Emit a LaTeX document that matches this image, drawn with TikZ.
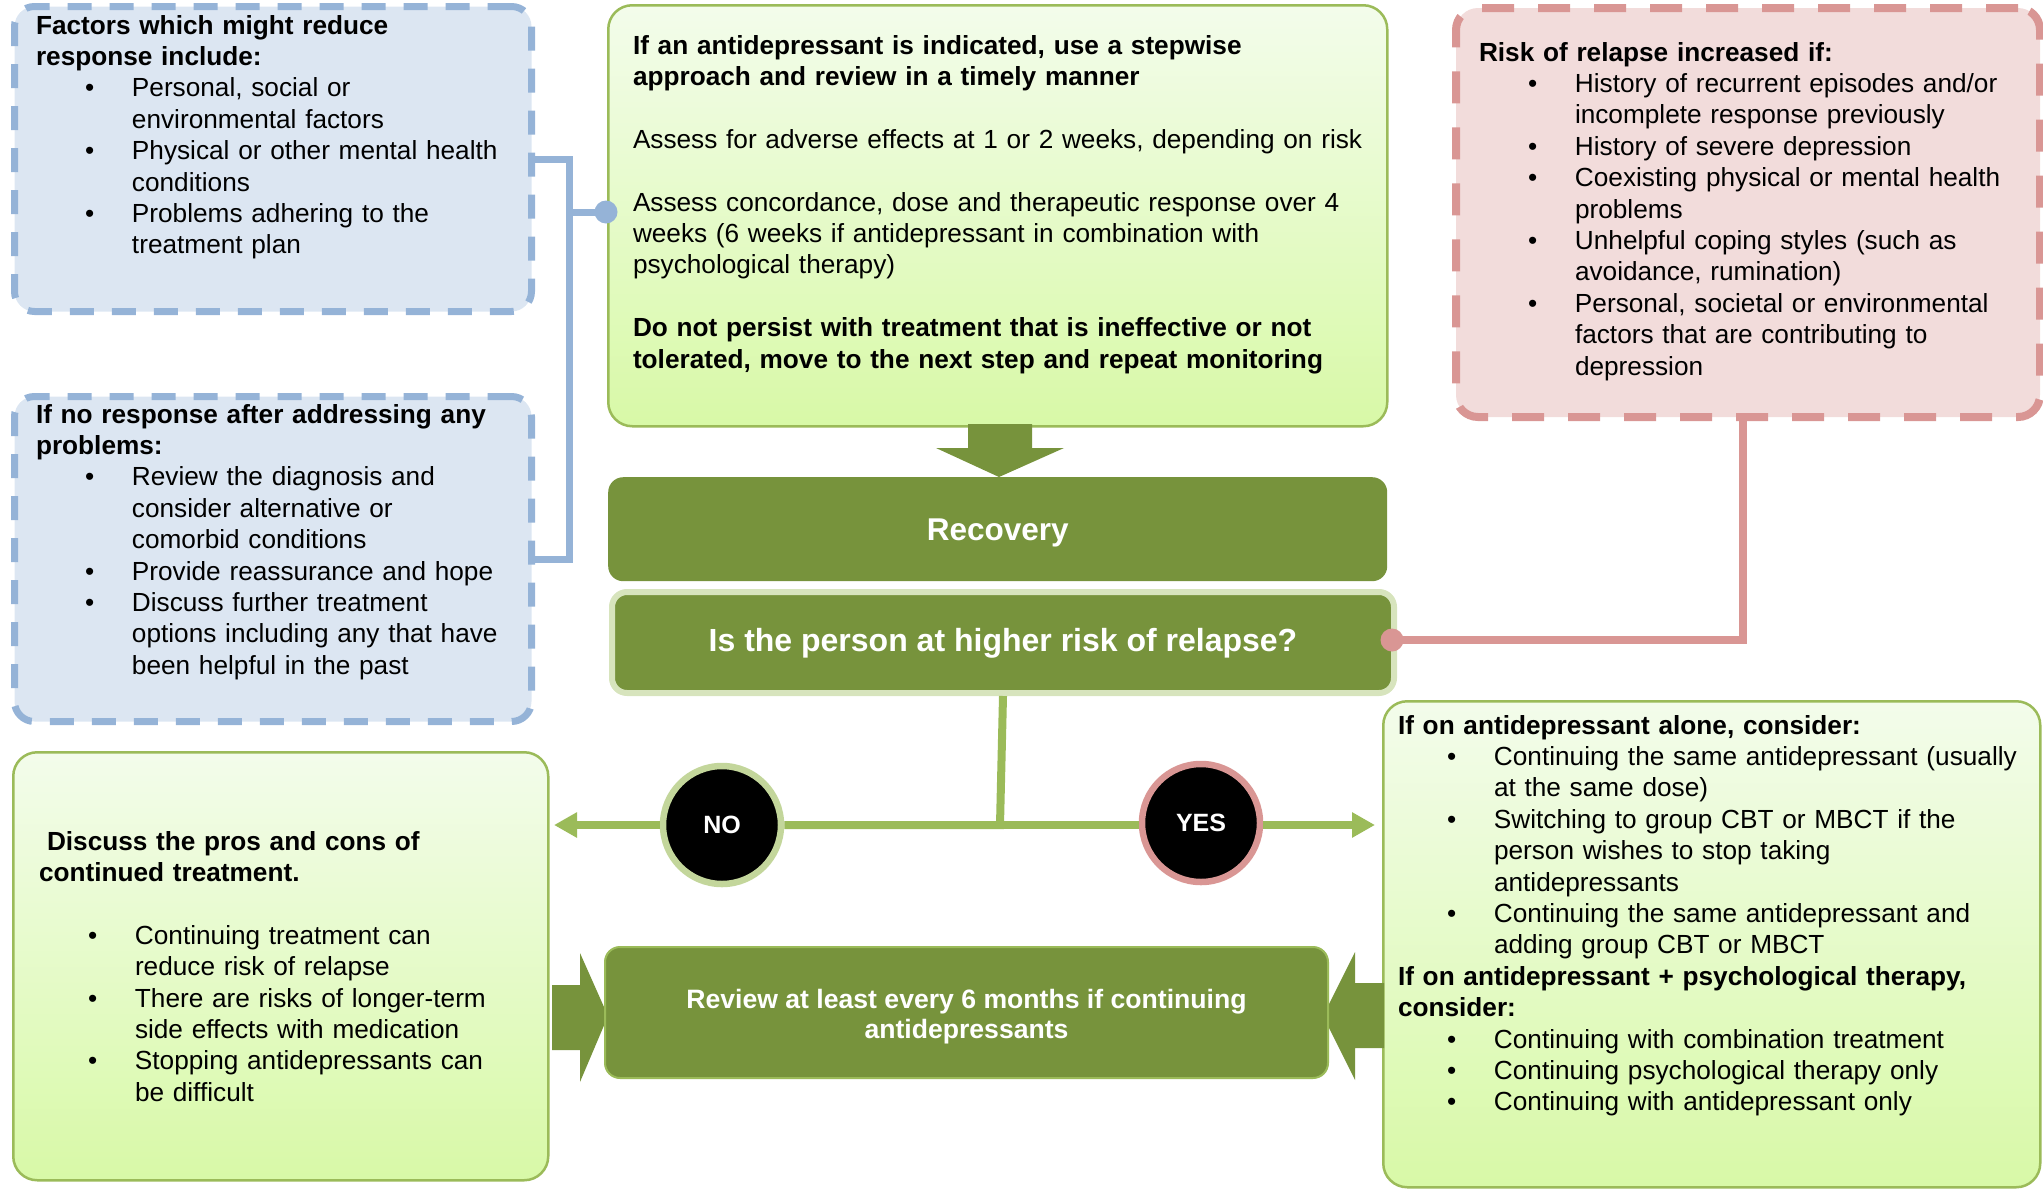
\documentclass[tikz,border=0pt]{standalone}
\usepackage{fontspec}
\setmainfont{Liberation Sans}
\usetikzlibrary{arrows.meta,shapes.geometric}

\definecolor{bluefill}{RGB}{220,230,242}
\definecolor{blueline}{RGB}{149,179,215}
\definecolor{pinkfill}{RGB}{242,220,219}
\definecolor{pinkline}{RGB}{217,150,148}
\definecolor{gline}{RGB}{155,187,89}
\definecolor{gtop}{RGB}{243,252,235}
\definecolor{gbot}{RGB}{216,249,167}
\definecolor{dgreen}{RGB}{119,147,60}
\definecolor{qborder}{RGB}{215,228,189}
\definecolor{noborder}{RGB}{195,214,155}

\newcommand{\bul}{\par\hangindent=96pt\hangafter=1\noindent\makebox[96pt][l]{\hspace{49pt}\textbullet}\ignorespaces}
\newcommand{\gap}{\par\vspace{\baselineskip}}
\newcommand{\fsbody}{\fontsize{26.2}{31.4}\selectfont}

\tikzset{
  bluebox/.style={draw=blueline, fill=bluefill, line width=7pt, dash pattern=on 24pt off 18pt, rounded corners=20pt, anchor=north west, inner sep=0pt},
  pinkbox/.style={draw=pinkline, fill=pinkfill, line width=8pt, dash pattern=on 32pt off 24pt, rounded corners=22pt, anchor=north west, inner sep=0pt},
  greenbox/.style={draw=gline, line width=2.5pt, top color=gtop, bottom color=gbot, rounded corners=24pt, anchor=north west, inner sep=0pt},
  darkbox/.style={fill=dgreen, rounded corners=15pt, anchor=north west, inner sep=0pt},
  darktext/.style={text=white, align=center, inner sep=0pt},
  txt/.style={anchor=base west, inner sep=0pt, outer sep=0pt, text width=#1, align=left, font=\fsbody},
  bconn/.style={draw=blueline, line width=7pt},
  pconn/.style={draw=pinkline, line width=8pt},
  gconn/.style={draw=gline, line width=8pt},
  gtip/.style={-{Triangle[length=23pt,width=24pt]}},
  answer/.style={circle, fill=black, line width=6.5pt, minimum size=118pt, inner sep=0pt, text=white, font=\bfseries\fontsize{25}{30}\selectfont},
}

\begin{document}
\begin{tikzpicture}[x=1pt,y=-1pt]
\useasboundingbox (0,0) rectangle (2043,1189);

% boxes
\node[bluebox, minimum width=517pt, minimum height=305pt] (f1) at (11,3) {};
\node[bluebox, minimum width=517pt, minimum height=325pt] (f2) at (11,393) {};
\node[pinkbox, minimum width=584pt, minimum height=409pt] (rk) at (1452,4) {};
\node[greenbox, minimum width=779pt, minimum height=421pt] (top) at (607,4) {};
\node[greenbox, minimum width=535pt, minimum height=428pt] (pros) at (12,751) {};
\node[greenbox, minimum width=657pt, minimum height=486pt] (cons) at (1382,700) {};

% down arrow
\fill[dgreen] (968,424) -- (1032,424) -- (1032,448) -- (1064,448) -- (999,477) -- (936,448) -- (968,448) -- cycle;

% block arrows into review box
\fill[dgreen] (552,985) -- (580,985) -- (580,953) -- (608,1016) -- (580,1082) -- (580,1050) -- (552,1050) -- cycle;
\fill[dgreen] (1384,983) -- (1355,983) -- (1355,952) -- (1323,1016) -- (1355,1080) -- (1355,1048) -- (1384,1048) -- cycle;

% dark boxes
\node[darkbox, minimum width=779pt, minimum height=104pt] (rec) at (608,477) {};
\node[darktext, font=\bfseries\fontsize{31.5}{36}\selectfont] (rect) at ([yshift=-4pt]rec.center) {Recovery};
\node[darkbox, draw=qborder, line width=6pt, minimum width=782pt, minimum height=101pt] (q) at (609,589) {};
\node[darktext, font=\bfseries\fontsize{32}{36}\selectfont] (qt) at ([yshift=-1pt]q.center) {Is the person at higher risk of relapse?};
\node[darkbox, draw=gline, line width=2pt, minimum width=723pt, minimum height=131pt] (rev) at (604,946) {};
\node[darktext, font=\bfseries\fontsize{26.6}{30}\selectfont] (revt) at ([yshift=-4pt]rev.center) {Review at least every 6 months if continuing\\antidepressants};

% blue connector
\node[circle, fill=blueline, minimum size=23pt, inner sep=0pt] (bdot) at (606,212) {};
\coordinate (bj) at (569,212);
\draw[bconn] (f1.east) -- (f1.east -| bj) -- (f2.east -| bj) -- (f2.east);
\draw[bconn] (bj) -- (bdot.center);

% pink connector
\node[circle, fill=pinkline, minimum size=23pt, inner sep=0pt] (pdot) at (1392,640) {};
\coordinate (pj) at (1743,413);
\draw[pconn] (pdot.center) -| (pj);

% yes / no
\coordinate (jn) at (1000,825);
\coordinate (tipL) at (554,825);
\coordinate (tipR) at (1375,825);
\node[answer, draw=noborder] (no) at (722,825) {NO};
\node[answer, draw=pinkline] (yes) at (1201,823) {YES};
\draw[gconn] (q.south) -- (jn) -- (no);
\draw[gconn] (jn) -- (yes.west |- jn);
\draw[gconn, gtip] (no) -- (tipL);
\draw[gconn, gtip] (yes.east |- tipR) -- (tipR);

% texts
\node[txt=480pt] (t1) at (36,34) {\textbf{Factors which might reduce\newline response include:}\bul Personal, social or\newline environmental factors\bul Physical or other mental health\newline conditions\bul Problems adhering to the\newline treatment plan\par};

\node[txt=490pt] (t2) at (36,423) {\textbf{If no response after addressing any\newline problems:}\bul Review the diagnosis and\newline consider alternative or\newline comorbid conditions\bul Provide reassurance and hope\bul Discuss further treatment\newline options including any that have\newline been helpful in the past\par};

\node[txt=760pt] (t3) at (633,54) {\textbf{If an antidepressant is indicated, use a stepwise\newline approach and review in a timely manner}\gap Assess for adverse effects at 1 or 2 weeks, depending on risk\gap Assess concordance, dose and therapeutic response over 4\newline weeks (6 weeks if antidepressant in combination with\newline psychological therapy)\gap \textbf{Do not persist with treatment that is ineffective or not\newline tolerated, move to the next step and repeat monitoring}\par};

\node[txt=560pt] (t4) at (1479,61) {\textbf{Risk of relapse increased if:}\bul History of recurrent episodes and/or\newline incomplete response previously\bul History of severe depression\bul Coexisting physical or mental health\newline problems\bul Unhelpful coping styles (such as\newline avoidance, rumination)\bul Personal, societal or environmental\newline factors that are contributing to\newline depression\par};

\node[txt=640pt] (t5) at (1398,734) {\textbf{If on antidepressant alone, consider:}\bul Continuing the same antidepressant (usually\newline at the same dose)\bul Switching to group CBT or MBCT if the\newline person wishes to stop taking\newline antidepressants\bul Continuing the same antidepressant and\newline adding group CBT or MBCT\par\noindent\textbf{If on antidepressant + psychological therapy,\newline consider:}\bul Continuing with combination treatment\bul Continuing psychological therapy only\bul Continuing with antidepressant only\par};

\node[txt=490pt] (t6) at (39,850) {\hspace*{8pt}\textbf{Discuss the pros and cons of\newline continued treatment.}\gap\bul Continuing treatment can\newline reduce risk of relapse\bul There are risks of longer-term\newline side effects with medication\bul Stopping antidepressants can\newline be difficult\par};
\end{tikzpicture}
\end{document}
